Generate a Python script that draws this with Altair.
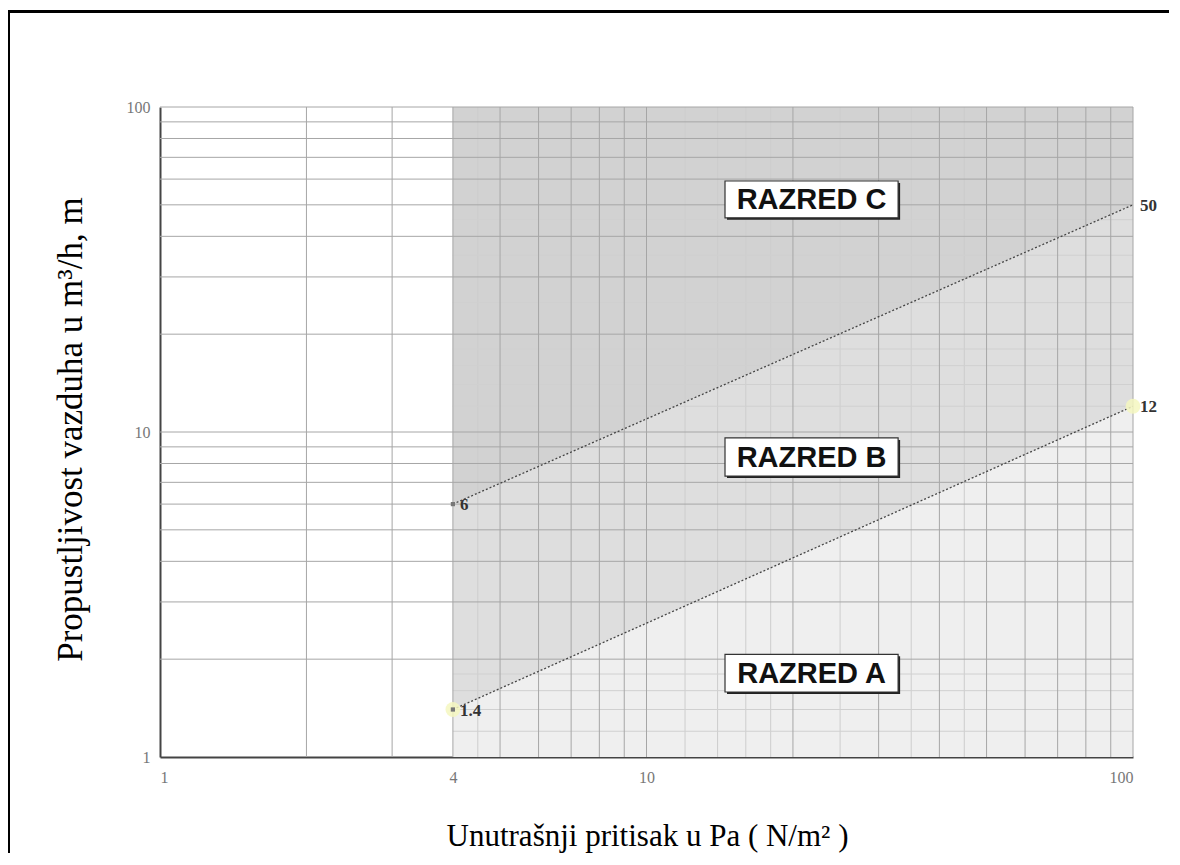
import altair as alt
import pandas as pd

# ---- data ----
x_ticks = [1, 4, 10, 100]
y_ticks = [1, 10, 100]
grid_x = [2, 3, 4, 5, 6, 7, 8, 9, 10, 20, 30, 40, 50, 60, 70, 80, 90, 100]
grid_y = [2, 3, 4, 5, 6, 7, 8, 9, 10, 20, 30, 40, 50, 60, 70, 80, 90, 100]
minor_x = [4.5, 12, 14, 16, 18, 25, 35, 45]
minor_y = [1.2, 1.4, 1.6, 1.8, 12, 14, 16, 18, 25, 35, 45]

p_start = 4
p_end = 100
upper_vals = [6, 50]     # boundary B/C
lower_vals = [1.4, 12]   # boundary A/B
y_min, y_max = 1, 100

classes = ["RAZRED A", "RAZRED B", "RAZRED C"]
class_colors = ["#efefef", "#dedede", "#d2d2d2"]
box_x_lo, box_x_hi = 14.5, 32.9
box_y_lo = [1.585, 7.32, 45.6]
box_y_hi = [2.07, 9.59, 59.2]

x_title = "Unutrašnji pritisak u Pa ( N/m² )"
y_title = "Propustljivost vazduha u m³/h, m"

# ---- tables ----
xs = [p_start, p_end]
areas = pd.DataFrame({
    "x": xs * 3,
    "lo": [y_min, y_min] + lower_vals + upper_vals,
    "hi": lower_vals + upper_vals + [y_max, y_max],
    "region": [classes[0]] * 2 + [classes[1]] * 2 + [classes[2]] * 2,
})
lines = pd.DataFrame({
    "x": xs * 2,
    "y": upper_vals + lower_vals,
    "s": ["upper", "upper", "lower", "lower"],
})
pts = pd.DataFrame({
    "x": xs * 2,
    "y": upper_vals + lower_vals,
    "lab": [str(v) for v in upper_vals] + [str(v) for v in lower_vals],
    "kind": ["upper", "upper", "lower", "lower"],
})
boxes = pd.DataFrame({
    "x": [box_x_lo] * 3, "x2": [box_x_hi] * 3,
    "y": box_y_lo, "y2": box_y_hi,
    "xm": [(box_x_lo * box_x_hi) ** 0.5] * 3,
    "ym": [(a * b) ** 0.5 for a, b in zip(box_y_lo, box_y_hi)],
    "lab": classes,
})
gx = pd.DataFrame({"x": grid_x})
gy = pd.DataFrame({"y": grid_y})
mx = pd.DataFrame({"x": minor_x})
my = pd.DataFrame({"y": minor_y, "x": [p_start] * len(minor_y), "x2": [p_end] * len(minor_y)})

xs_scale = alt.Scale(type="log", domain=[1, 100], nice=False)
ys_scale = alt.Scale(type="log", domain=[1, 100], nice=False)

serif = "Liberation Serif"

x_axis = alt.Axis(
    values=x_ticks, format="~g", grid=False, ticks=False,
    domainColor="#444", domainWidth=2,
    labelFont=serif, labelFontSize=16, labelColor="#777", labelPadding=12,
    title=x_title, titleFont=serif, titleFontSize=31, titleFontWeight="normal",
    titleColor="#000", titleX=487, titleY=88, titleBaseline="alphabetic",
    titleAlign="center",
)
y_axis = alt.Axis(
    values=y_ticks, format="~g", grid=False, ticks=False,
    domainColor="#444", domainWidth=2,
    labelFont=serif, labelFontSize=16, labelColor="#777", labelPadding=10,
    title=y_title, titleFont=serif, titleFontSize=35, titleFontWeight="normal",
    titleColor="#000", titleX=-90, titleY=322, titleBaseline="middle",
    titleAlign="center", titleAngle=270,
)

area = alt.Chart(areas).mark_area(opacity=1).encode(
    x=alt.X("x:Q", scale=xs_scale, axis=x_axis),
    y=alt.Y("lo:Q", scale=ys_scale, axis=y_axis),
    y2="hi:Q",
    color=alt.Color("region:N", scale=alt.Scale(domain=classes, range=class_colors), legend=None),
)

minor_v = alt.Chart(mx).mark_rule(color="#cdcdcd", strokeWidth=1).encode(
    x=alt.X("x:Q", scale=xs_scale), y=alt.value(0), y2=alt.value(650)
)
minor_h = alt.Chart(my).mark_rule(color="#d0d0d0", strokeWidth=1).encode(
    y=alt.Y("y:Q", scale=ys_scale), x=alt.X("x:Q", scale=xs_scale), x2="x2:Q"
)
grid_v = alt.Chart(gx).mark_rule(color="#a6a6a6", strokeWidth=1).encode(
    x=alt.X("x:Q", scale=xs_scale), y=alt.value(0), y2=alt.value(650)
)
grid_h = alt.Chart(gy).mark_rule(color="#a6a6a6", strokeWidth=1).encode(
    y=alt.Y("y:Q", scale=ys_scale), x=alt.value(0), x2=alt.value(973)
)

line = alt.Chart(lines).mark_line(color="#444", strokeWidth=1.3, strokeDash=[2, 2]).encode(
    x=alt.X("x:Q", scale=xs_scale), y=alt.Y("y:Q", scale=ys_scale), detail="s:N"
)
glow = alt.Chart(pts).transform_filter(alt.datum.kind == "lower").mark_circle(
    size=220, color="#f4f7c0", opacity=0.85
).encode(x=alt.X("x:Q", scale=xs_scale), y=alt.Y("y:Q", scale=ys_scale))
dots = alt.Chart(pts).transform_filter(alt.datum.x == p_start).mark_square(
    size=18, color="#777", opacity=1
).encode(x=alt.X("x:Q", scale=xs_scale), y=alt.Y("y:Q", scale=ys_scale))
pt_text = alt.Chart(pts).mark_text(
    align="left", dx=7, dy=1, font=serif, fontSize=17, fontWeight="bold", color="#333"
).encode(x=alt.X("x:Q", scale=xs_scale), y=alt.Y("y:Q", scale=ys_scale), text="lab:N")

shadow = alt.Chart(boxes).mark_rect(
    color="#222", xOffset=2, x2Offset=2, yOffset=2, y2Offset=2
).encode(
    x=alt.X("x:Q", scale=xs_scale), x2="x2:Q",
    y=alt.Y("y:Q", scale=ys_scale), y2="y2:Q",
)
box = alt.Chart(boxes).mark_rect(color="white", stroke="#333", strokeWidth=1.2).encode(
    x=alt.X("x:Q", scale=xs_scale), x2="x2:Q",
    y=alt.Y("y:Q", scale=ys_scale), y2="y2:Q",
)
box_text = alt.Chart(boxes).mark_text(
    font="Liberation Sans", fontSize=29, fontWeight="bold", color="#111", baseline="middle", dy=1
).encode(x=alt.X("xm:Q", scale=xs_scale), y=alt.Y("ym:Q", scale=ys_scale), text="lab:N")

# outer frame of the figure
frame_l = alt.Chart(gx).mark_rule(color="black", strokeWidth=3).encode(
    x=alt.value(-151.5), y=alt.value(-97), y2=alt.value(800)
)
frame_t = alt.Chart(gx).mark_rule(color="black", strokeWidth=3).encode(
    x=alt.value(-153), x2=alt.value(1100), y=alt.value(-95.5)
)

chart = alt.layer(
    area, minor_v, minor_h, grid_v, grid_h, line, glow, dots, pt_text,
    shadow, box, box_text, frame_l, frame_t,
).properties(
    width=973, height=650,
    autosize=alt.AutoSizeParams(type="none"),
    padding={"left": 152, "top": 99, "right": 36, "bottom": 96},
).configure_view(stroke=None)

chart.save("out.html", embed_options={"renderer": "svg", "actions": False})
